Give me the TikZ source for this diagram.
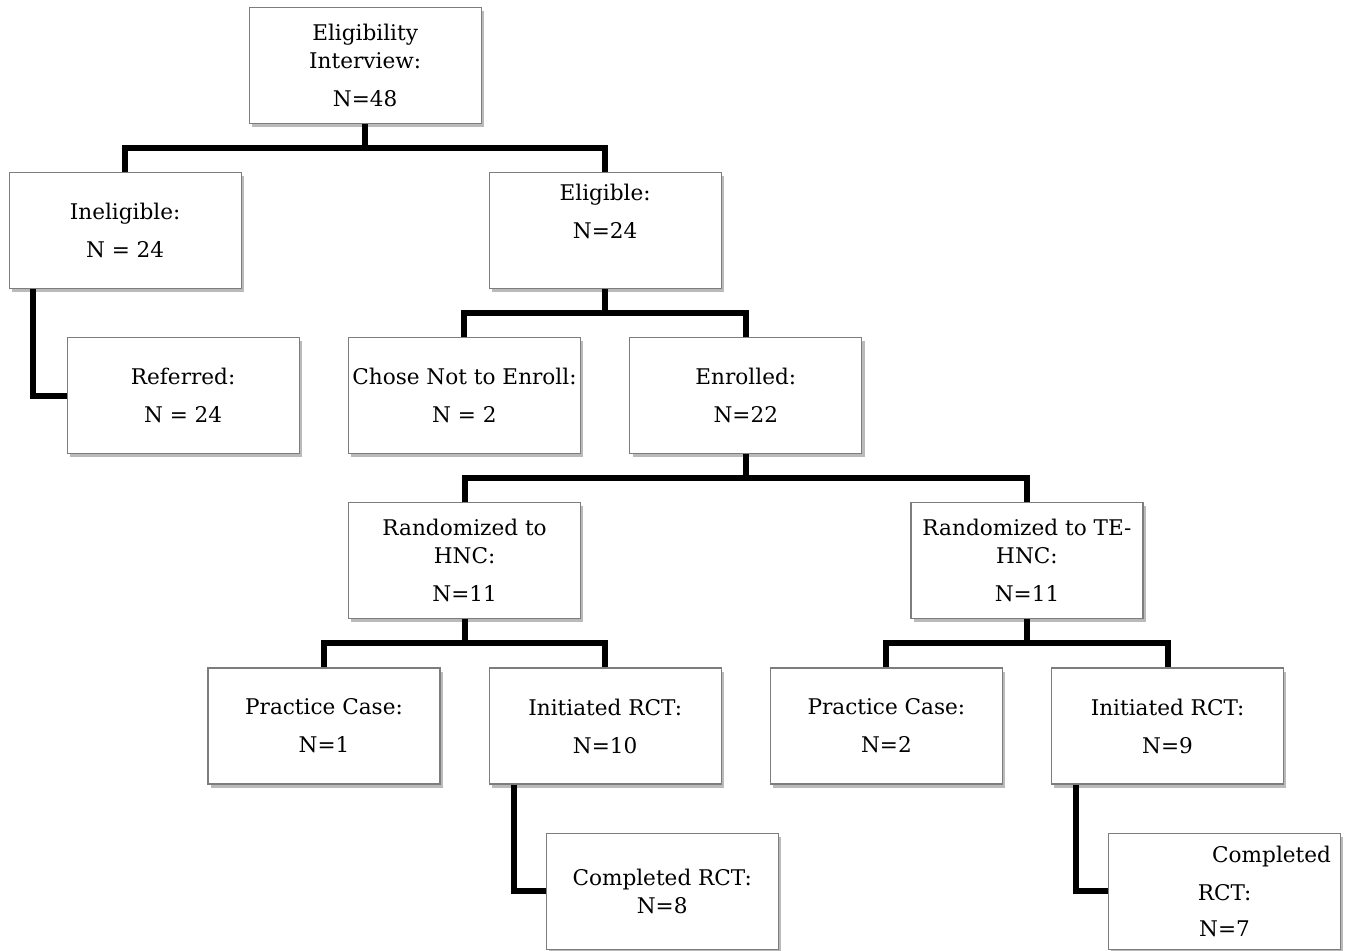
\documentclass[tikz,border=0pt]{standalone}
\usepackage{fontspec}
\setmainfont{DejaVu Serif}
\usepackage{tikz}
\usetikzlibrary{
  calc,
  positioning,
  shadows
}
\definecolor{flowedge}{RGB}{125,125,125}
\definecolor{flowshade}{RGB}{140,140,140}
\tikzset{
  flowBox/.style={
    rectangle,
    draw=flowedge,
    line width=0.6pt,
    fill=white,
    drop shadow={shadow xshift=1.4pt, shadow yshift=-1.8pt,
      fill=flowshade, opacity=0.6},
    minimum width=116pt,
    minimum height=58pt,
    inner sep=2pt,
    align=center,
    font=\fontsize{10.8}{14}\selectfont
  },
  flowLink/.style={
    line width=3pt,
    draw=black,
    line join=miter
  }
}

\begin{document}
\begin{tikzpicture}[x=0.5pt, y=-0.5pt, node distance=24pt]
  \useasboundingbox[fill=white] (0,0) rectangle (1350,950);

  % bottom row
  \node[flowBox] (pracHNC) at (324,726) {Practice Case:\\[5pt]N=1};
  \node[flowBox, right=of pracHNC] (initHNC) {Initiated RCT:\\[5pt]N=10};
  \node[flowBox, right=of initHNC] (pracTE) {Practice Case:\\[5pt]N=2};
  \node[flowBox, right=of pracTE] (initTE) {Initiated RCT:\\[5pt]N=9};

  % randomized arms
  \coordinate (midHNC) at ($(pracHNC.north)!0.5!(initHNC.north)$);
  \coordinate (midTE) at ($(pracTE.north)!0.5!(initTE.north)$);
  \node[flowBox, above=of midHNC] (randHNC) {Randomized to\\HNC:\\[5pt]N=11};
  \node[flowBox, above=of midTE] (randTE) {Randomized to TE-\\HNC:\\[5pt]N=11};

  % enrolment row
  \coordinate (midRand) at ($(randHNC.north)!0.5!(randTE.north)$);
  \node[flowBox, above=of midRand] (enrolled) {Enrolled:\\[5pt]N=22};
  \node[flowBox, left=of enrolled] (chose) {Chose Not to Enroll:\\[5pt]N = 2};
  \node[flowBox, left=of chose] (referred) {Referred:\\[5pt]N = 24};

  % eligibility row
  \coordinate (midEnrol) at ($(chose.north)!0.5!(enrolled.north)$);
  \node[flowBox, above=of midEnrol] (eligible) {Eligible:\\[5pt]N=24\\[5pt]\mbox{}};
  \node[flowBox, above=of referred, xshift=-29pt] (ineligible) {Ineligible:\\[5pt]N = 24};

  \coordinate (midTop) at ($(ineligible.north)!0.5!(eligible.north)$);
  \node[flowBox, above=of midTop] (interview) {Eligibility\\Interview:\\[5pt]N=48};

  % completed
  \node[flowBox, below=of initHNC, xshift=28.5pt] (complHNC) {Completed RCT:\\N=8};
  \node[flowBox, below=of initTE, xshift=28.5pt] (complTE)
    {\hspace*{47pt}Completed\\[5pt]RCT:\\[4pt]N=7};

  % bus levels, half way between the rows
  \coordinate (busTop) at ([yshift=12pt]midTop);
  \coordinate (busEnrol) at ([yshift=12pt]midEnrol);
  \coordinate (busRand) at ([yshift=12pt]midRand);
  \coordinate (busHNC) at ([yshift=12pt]midHNC);
  \coordinate (busTE) at ([yshift=12pt]midTE);

  % bus connectors
  \draw[flowLink] (interview.south) -- (busTop);
  \draw[flowLink] (ineligible.north) |- (busTop) -| (eligible.north);
  \draw[flowLink] (eligible.south) -- (busEnrol);
  \draw[flowLink] (chose.north) |- (busEnrol) -| (enrolled.north);
  \draw[flowLink] (enrolled.south) -- (busRand);
  \draw[flowLink] (randHNC.north) |- (busRand) -| (randTE.north);
  \draw[flowLink] (randHNC.south) -- (busHNC);
  \draw[flowLink] (pracHNC.north) |- (busHNC) -| (initHNC.north);
  \draw[flowLink] (randTE.south) -- (busTE);
  \draw[flowLink] (pracTE.north) |- (busTE) -| (initTE.north);

  % elbow connectors
  \draw[flowLink] ([xshift=12pt]ineligible.south west) |- (referred.west);
  \draw[flowLink] ([xshift=12.5pt]initHNC.south west) |- (complHNC.west);
  \draw[flowLink] ([xshift=12.5pt]initTE.south west) |- (complTE.west);
\end{tikzpicture}
\end{document}
